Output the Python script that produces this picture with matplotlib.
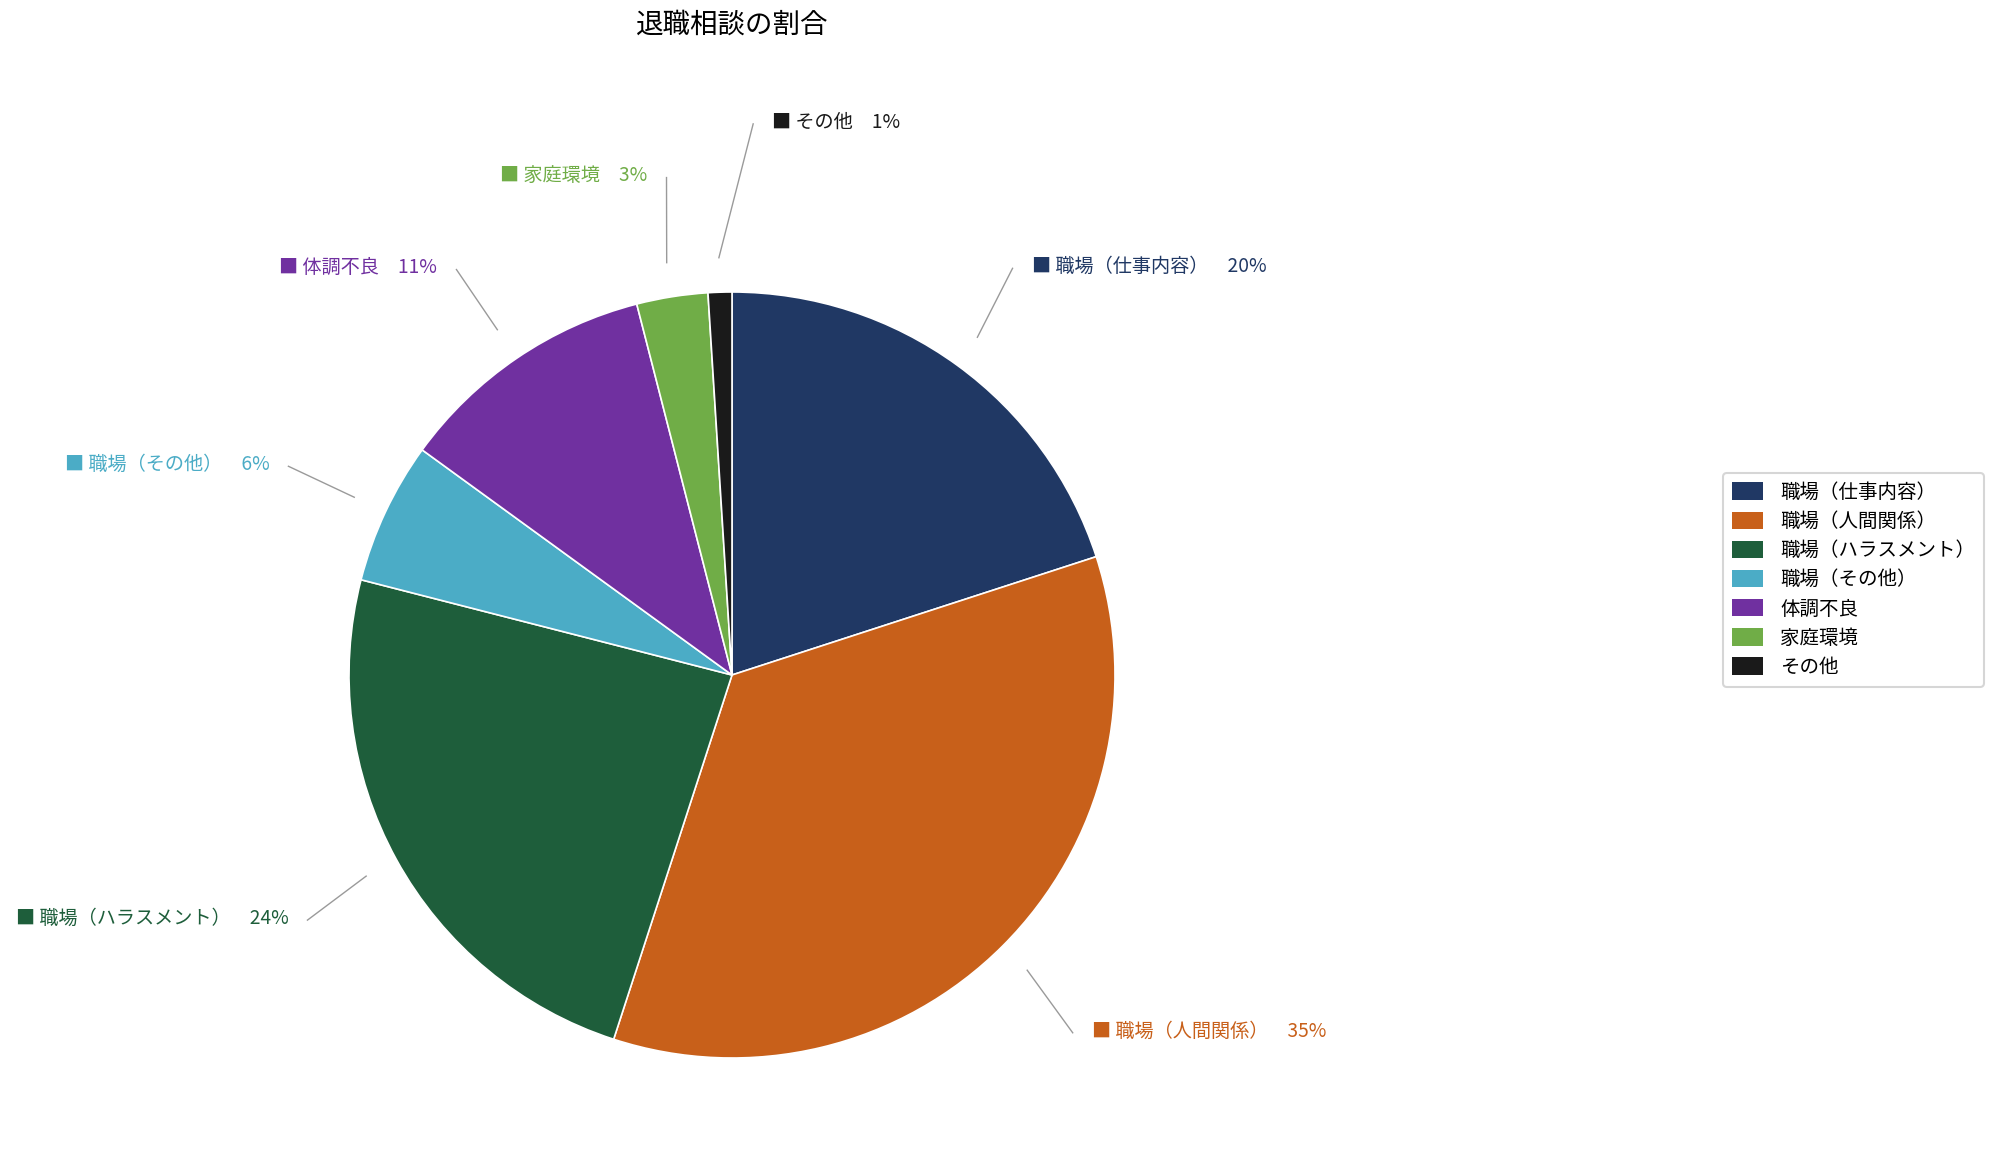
import numpy as np
import matplotlib.pyplot as plt

plt.rcParams['font.family'] = ['Noto Sans CJK JP', 'DejaVu Sans']

# --- data ---
categories = ["職場（仕事内容）", "職場（人間関係）", "職場（ハラスメント）",
              "職場（その他）", "体調不良", "家庭環境", "その他"]
shares = [20, 35, 24, 6, 11, 3, 1]
colors = ["#203864", "#C8601A", "#1E5E3B", "#4BACC6", "#7030A0", "#70AD47", "#1A1A1A"]

# label line layout tweaks (end radius, angle shift in degrees)
label_tweaks = {0: (1.29, 1.4), 1: (1.29, -1.4), 2: (1.28, 1.2),
                5: (1.31, -1.5), 6: (1.44, -4.0)}

fig = plt.figure(figsize=(19.97, 11.70), dpi=100)

cx, cy, r_px = 732 / 1997, 1 - 675 / 1170, 383
ax = fig.add_axes([cx - r_px / 1997, cy - r_px / 1170, 2 * r_px / 1997, 2 * r_px / 1170])
wedges, _ = ax.pie(shares, colors=colors, startangle=90, counterclock=False,
                   radius=1.0, wedgeprops=dict(edgecolor="white", linewidth=1.2))
ax.set_xlim(-1, 1)
ax.set_ylim(-1, 1)
ax.set_aspect("equal")
ax.axis("off")

# --- outside labels with leader lines ---
total = sum(shares)
cum = 0
for i, (cat, val, col) in enumerate(zip(categories, shares, colors)):
    mid = 90 - (cum + val / 2) / total * 360
    cum += val
    a = np.deg2rad(mid)
    x0, y0 = 1.09 * np.cos(a), 1.09 * np.sin(a)
    r_end, shift = label_tweaks.get(i, (1.28, 0.0))
    b = np.deg2rad(mid + shift)
    x1, y1 = r_end * np.cos(b), r_end * np.sin(b)
    ax.plot([x0, x1], [y0, y1], color="#9a9a9a", lw=1, clip_on=False)
    right = x1 >= 0
    tx = x1 + (0.05 if right else -0.05)
    ax.text(tx, y1 + 0.005, f"■ {cat}　{val}%", color=col, fontsize=13.8,
            ha="left" if right else "right", va="center", clip_on=False)

fig.text(cx, 1 - 25 / 1170, "退職相談の割合", ha="center", va="center", fontsize=19.8)

leg = fig.legend(wedges, categories, loc="upper left",
                 bbox_to_anchor=(1723 / 1997, 1 - 473 / 1170),
                 fontsize=14, frameon=True, handlelength=1.6, handleheight=1.0,
                 handletextpad=0.9, labelspacing=0.42, borderpad=0.45,
                 borderaxespad=0, fancybox=True)
leg.get_frame().set_edgecolor("#cccccc")
leg.get_frame().set_linewidth(1.5)
for h in leg.legend_handles:
    h.set_edgecolor("none")

fig.savefig("out.png", dpi=100)
